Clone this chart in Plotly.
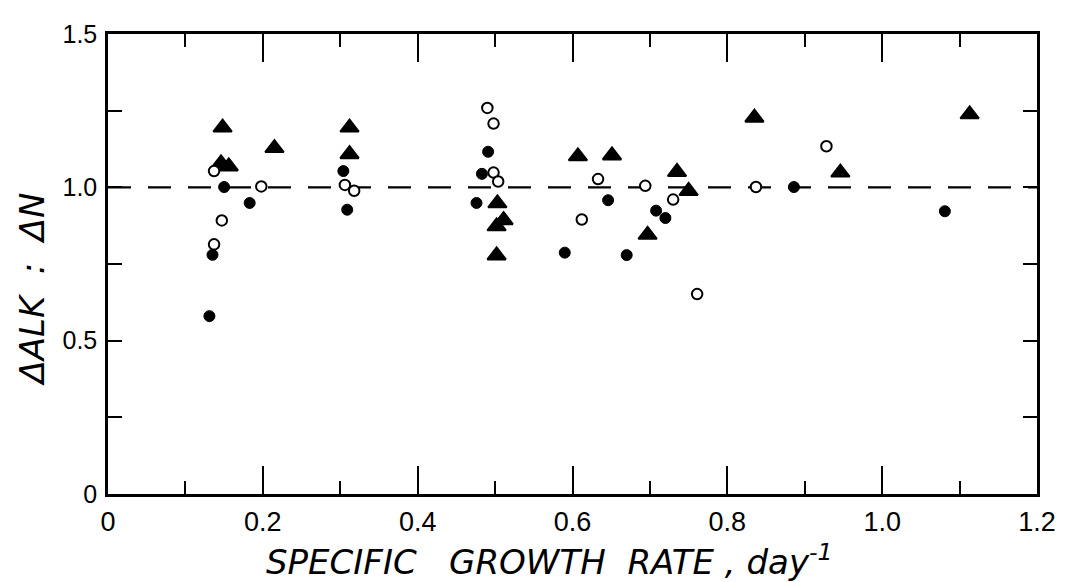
import plotly.graph_objects as go

# Data
tri_x = [0.148, 0.146, 0.156, 0.215, 0.312, 0.312, 0.503, 0.511, 0.502, 0.502,
         0.607, 0.651, 0.735, 0.750, 0.697, 0.835, 0.946, 1.113]
tri_y = [1.195, 1.078, 1.068, 1.128, 1.195, 1.108, 0.948, 0.893, 0.873, 0.778,
         1.101, 1.104, 1.050, 0.988, 0.845, 1.227, 1.048, 1.238]

fill_x = [0.304, 0.150, 0.183, 0.135, 0.131, 0.309, 0.491, 0.483, 0.476, 0.646,
          0.590, 0.670, 0.708, 0.720, 0.886, 1.081]
fill_y = [1.053, 1.001, 0.949, 0.780, 0.580, 0.927, 1.116, 1.044, 0.949, 0.958,
          0.787, 0.779, 0.924, 0.900, 1.001, 0.922]

open_x = [0.137, 0.198, 0.147, 0.137, 0.306, 0.318, 0.490, 0.498, 0.498, 0.504,
          0.633, 0.694, 0.612, 0.730, 0.761, 0.837, 0.928]
open_y = [1.053, 1.003, 0.892, 0.814, 1.008, 0.989, 1.259, 1.208, 1.048, 1.019,
          1.027, 1.005, 0.895, 0.960, 0.652, 1.001, 1.134]

x_tick_vals = [0, 0.2, 0.4, 0.6, 0.8, 1.0, 1.2]
x_tick_text = ["0", "0.2", "0.4", "0.6", "0.8", "1.0", "1.2"]
x_minor_vals = [0.1, 0.3, 0.5, 0.7, 0.9, 1.1]
y_tick_vals = [0, 0.5, 1.0, 1.5]
y_tick_text = ["0", "0.5", "1.0", "1.5"]
y_minor_vals = [0.25, 0.75, 1.25]
ref_line_y = 1.0

fig = go.Figure()
fig.add_trace(go.Scatter(x=tri_x, y=tri_y, mode="markers",
                         marker=dict(symbol="triangle-up", size=16, color="black",
                                     line=dict(color="black", width=2))))
fig.add_trace(go.Scatter(x=fill_x, y=fill_y, mode="markers",
                         marker=dict(symbol="circle", size=11, color="black",
                                     line=dict(color="black", width=1))))
fig.add_trace(go.Scatter(x=open_x, y=open_y, mode="markers",
                         marker=dict(symbol="circle", size=10.5, color="white",
                                     line=dict(color="black", width=2))))

fig.add_shape(type="line", xref="paper", x0=0, x1=1, yref="y", y0=ref_line_y, y1=ref_line_y,
              line=dict(color="black", width=2.2, dash="23px,17px"), layer="below")

fam = "Liberation Sans, Arial, sans-serif"

fig.update_xaxes(range=[0, 1.2], tickmode="array", tickvals=x_tick_vals, ticktext=x_tick_text,
                 ticks="inside", ticklen=28, tickwidth=2, tickcolor="black",
                 showline=True, linewidth=2.5, linecolor="black", mirror="ticks",
                 showgrid=False, zeroline=False, ticklabelstandoff=2,
                 tickfont=dict(family=fam, size=27, color="black"),
                 minor=dict(tickvals=x_minor_vals, ticks="inside", ticklen=13,
                            tickwidth=2, tickcolor="black", showgrid=False))
fig.update_yaxes(range=[0, 1.5], tickmode="array", tickvals=y_tick_vals, ticktext=y_tick_text,
                 ticks="inside", ticklen=14, tickwidth=2, tickcolor="black",
                 showline=True, linewidth=2.5, linecolor="black", mirror="ticks",
                 showgrid=False, zeroline=False, ticklabelstandoff=3,
                 tickfont=dict(family=fam, size=25, color="black"),
                 minor=dict(tickvals=y_minor_vals, ticks="inside", ticklen=14,
                            tickwidth=2, tickcolor="black", showgrid=False))

fig.add_annotation(text="<i>SPECIFIC   GROWTH  RATE , day<sup>-1</sup></i>",
                   xref="paper", yref="paper", x=0.475, y=-0.143,
                   xanchor="center", yanchor="middle", showarrow=False,
                   font=dict(family="DejaVu Sans, sans-serif", size=34, color="black"))
fig.add_annotation(text="<i>\u0394ALK  :  \u0394N</i>",
                   xref="paper", yref="paper", x=-0.082, y=0.444, textangle=-90,
                   xanchor="center", yanchor="middle", showarrow=False,
                   font=dict(family="DejaVu Sans, sans-serif", size=34, color="black"))

fig.update_layout(width=1060, height=574, margin=dict(l=100, r=24, t=22, b=88),
                  plot_bgcolor="white", paper_bgcolor="white", showlegend=False)

fig.write_html("out.html")
